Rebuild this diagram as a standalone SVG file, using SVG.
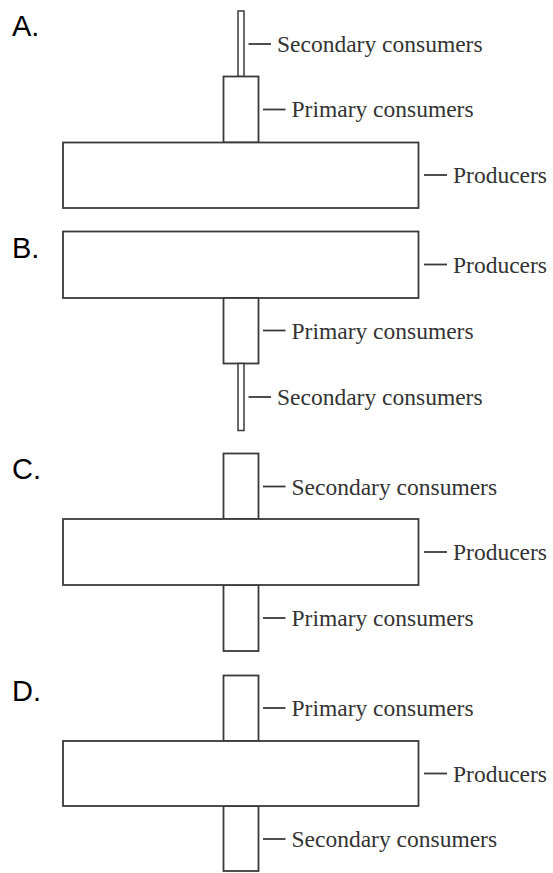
<svg xmlns="http://www.w3.org/2000/svg" width="553" height="873" viewBox="0 0 553 873">
<style>
.bar{fill:#fff;stroke:#3a3a3a;stroke-width:1.8}
.thin{fill:#fff;stroke:#3a3a3a;stroke-width:1.5}
.lead{stroke:#3a3a3a;stroke-width:1.8}
.lbl{font-family:"Liberation Serif","Times New Roman",serif;font-size:23.5px;fill:#333}
.opt{font-family:"Liberation Sans",Arial,sans-serif;font-size:29px;fill:#000}
</style>
<rect width="553" height="873" fill="#fff"/>
<g id="options">
<text class="opt" x="12" y="36">A.</text>
<text class="opt" x="12" y="258">B.</text>
<text class="opt" x="12" y="479">C.</text>
<text class="opt" x="12" y="701">D.</text>
</g>
<g id="A">
<g id="A-secondary"><rect class="thin" x="238" y="11" width="6" height="65.5"/><text class="lbl" x="277" y="52">Secondary consumers</text></g>
<g id="A-primary"><rect class="bar" x="223.5" y="76.5" width="35" height="66"/><text class="lbl" x="291.5" y="117">Primary consumers</text></g>
<g id="A-producers"><rect class="bar" x="63" y="142.5" width="355.5" height="65.5"/><text class="lbl" x="453" y="183">Producers</text></g>
</g>
<g id="B">
<g id="B-producers"><rect class="bar" x="63" y="231.5" width="355.5" height="66.5"/><text class="lbl" x="453" y="272.5">Producers</text></g>
<g id="B-primary"><rect class="bar" x="223.5" y="298" width="35" height="65.5"/><text class="lbl" x="291.5" y="338.5">Primary consumers</text></g>
<g id="B-secondary"><rect class="thin" x="238" y="363.5" width="6" height="67"/><text class="lbl" x="277" y="405">Secondary consumers</text></g>
</g>
<g id="C">
<g id="C-secondary"><rect class="bar" x="223.5" y="453.5" width="35" height="65.5"/><text class="lbl" x="291.5" y="494.5">Secondary consumers</text></g>
<g id="C-primary"><rect class="bar" x="223.5" y="585" width="35" height="66"/><text class="lbl" x="291.5" y="626">Primary consumers</text></g>
<g id="C-producers"><rect class="bar" x="63" y="519" width="355.5" height="66"/><text class="lbl" x="453" y="560">Producers</text></g>
</g>
<g id="D">
<g id="D-primary"><rect class="bar" x="223.5" y="675.5" width="35" height="65.5"/><text class="lbl" x="291.5" y="716">Primary consumers</text></g>
<g id="D-secondary"><rect class="bar" x="223.5" y="806" width="35" height="65"/><text class="lbl" x="291.5" y="847">Secondary consumers</text></g>
<g id="D-producers"><rect class="bar" x="63" y="741" width="355.5" height="65"/><text class="lbl" x="453" y="781.5">Producers</text></g>
</g>
<g id="connectors">
<line class="lead" x1="248.5" y1="44" x2="271" y2="44"/>
<line class="lead" x1="263" y1="109.5" x2="285.5" y2="109.5"/>
<line class="lead" x1="424" y1="175" x2="447" y2="175"/>
<line class="lead" x1="424" y1="264.5" x2="447" y2="264.5"/>
<line class="lead" x1="263" y1="330.5" x2="285.5" y2="330.5"/>
<line class="lead" x1="248.5" y1="397" x2="271" y2="397"/>
<line class="lead" x1="263" y1="486.5" x2="285.5" y2="486.5"/>
<line class="lead" x1="424" y1="552" x2="447" y2="552"/>
<line class="lead" x1="263" y1="618" x2="285.5" y2="618"/>
<line class="lead" x1="263" y1="708" x2="285.5" y2="708"/>
<line class="lead" x1="424" y1="773.5" x2="447" y2="773.5"/>
<line class="lead" x1="263" y1="839" x2="285.5" y2="839"/>
</g>
</svg>
